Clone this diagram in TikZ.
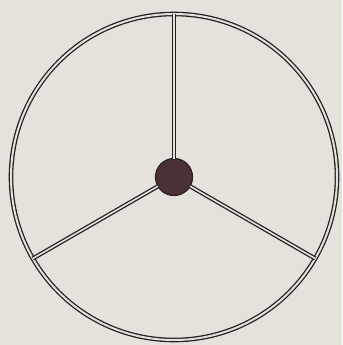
\documentclass[tikz,border=0pt]{standalone}
\usetikzlibrary{positioning}
\definecolor{paper}{RGB}{229,225,219}
\definecolor{ink}{RGB}{40,32,32}
\definecolor{hubfill}{RGB}{74,50,52}

\begin{document}
\begin{tikzpicture}[
  x=0.5mm, y=-0.5mm,
  rim/.style={circle, draw=ink, double=paper, double distance=1.0mm, line width=0.65mm,
              minimum size=163mm, inner sep=0pt, outer sep=0pt},
  hub/.style={circle, draw=ink, fill=hubfill, line width=0.6mm,
              minimum size=18.5mm, inner sep=0pt, outer sep=0pt},
  spoke/.style={draw=ink, double=paper, double distance=0.8mm, line width=0.65mm}
]
  \fill[paper] (0,0) rectangle (342,345);
  \useasboundingbox (0,0) rectangle (342,345);
  \node[rim] (wheel) at (174,177) {};
  \node[hub] (hub) at (174,177) {};
  \draw[spoke] (hub) -- (wheel.90);
  \draw[spoke] (hub) -- (wheel.210);
  \draw[spoke] (hub) -- (wheel.330);
\end{tikzpicture}
\end{document}
